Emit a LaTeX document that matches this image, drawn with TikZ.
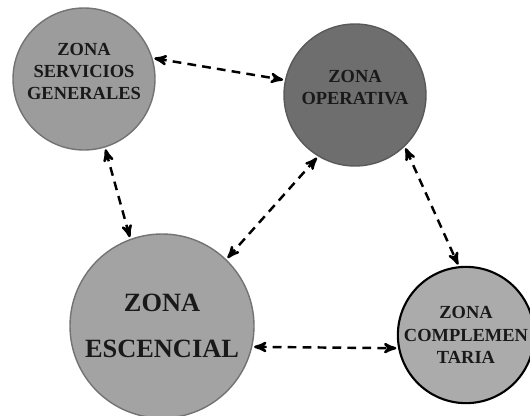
\documentclass[tikz,border=0pt]{standalone}
\usepackage{fontspec}
\setmainfont{Liberation Serif}
\usetikzlibrary{arrows}
\usetikzlibrary{shapes}

\begin{document}
\begin{tikzpicture}
  [every node/.style={circle,inner sep=0pt,align=center,text=black!90,
     font=\bfseries\fontsize{10.5}{12.6}\selectfont},
   zone/.style={fill=black!39,draw=black!55,line width=0.8pt},
   link/.style={<->,>=stealth',line width=1.4pt,dash pattern=on 5pt off 3.5pt,
     shorten <=1pt,shorten >=1pt}]
  \useasboundingbox (0,0) rectangle (10.6,8.3);
  \clip (0,0) rectangle (10.6,8.3);

  \node[zone,minimum size=2.84cm] (sg) at (1.68,6.72) {ZONA\\SERVICIOS\\GENERALES\\[-4pt]};
  \node[zone,minimum size=2.84cm,fill=black!57,draw=black!65] (op) at (7.10,6.40) {ZONA\\OPERATIVA\\[-4pt]};
  \node[zone,minimum size=3.68cm,fill=black!36,font=\bfseries\fontsize{15}{18}\selectfont]
    (esc) at (3.24,1.78) {ZONA\\[8pt]ESCENCIAL};
  \node[zone,minimum size=2.72cm,fill=black!33,draw=black,line width=1.2pt]
    (comp) at (9.32,1.60) {ZONA\\COMPLEMEN\\TARIA};

  \foreach \from/\to in {sg.17/op.168,sg.287/esc.110,op.239/esc.46,op.314/comp.96,esc.347/comp.191}
    \draw[link] (\from) -- (\to);

\end{tikzpicture}
\end{document}
